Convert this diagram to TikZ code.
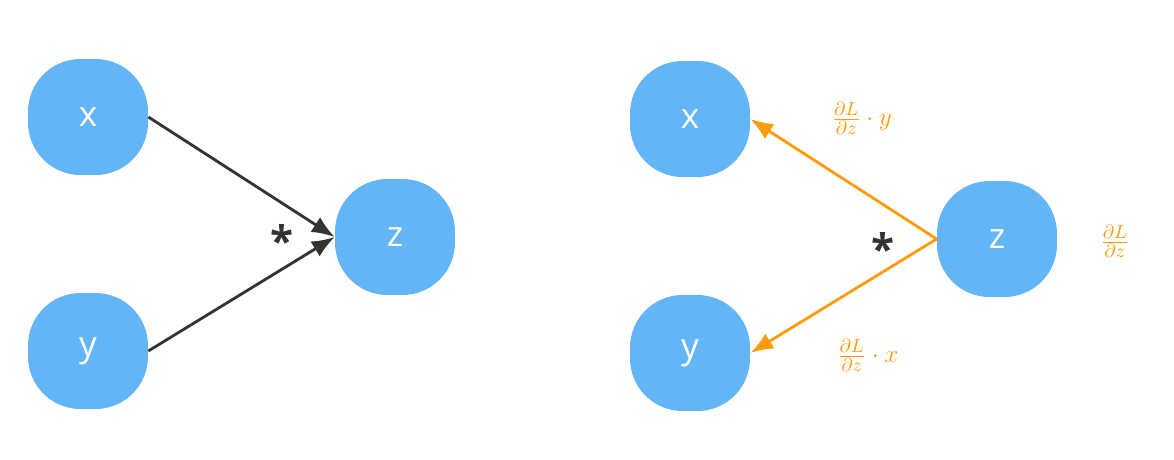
\documentclass[tikz,border=0pt]{standalone}
\usepackage{fontspec}
\setmainfont{Open Sans}
\usetikzlibrary{arrows.meta}
\definecolor{nblue}{HTML}{64B5F6}
\definecolor{gor}{HTML}{FF9A0A}
\definecolor{dk}{HTML}{333333}
\begin{document}
\begin{tikzpicture}[x=0.02cm,y=-0.02cm,
  blob/.style={fill=nblue,draw=none,minimum width=2.4cm,minimum height=2.32cm,rounded corners=1.05cm,text=white,font=\fontsize{20}{24}\selectfont,inner sep=0},
  fw/.style={draw=dk,line width=1.6pt,-{Latex[length=13pt,width=10pt]}},
  bw/.style={draw=gor,line width=1.6pt,-{Latex[length=13pt,width=10pt]}},
  lab/.style={text=gor,font=\fontsize{15}{18}\selectfont},
  star/.style={text=dk,font=\fontsize{24}{24}\selectfont\bfseries}]
\useasboundingbox (0,0) rectangle (1174,460);
\node[blob] (x1) at (88,117) {x};
\node[blob] (y1) at (88,351) {y};
\node[blob] (z1) at (395,237) {z};
\draw[fw] (x1.east) -- (z1.west);
\draw[fw] (y1.east) -- (z1.west);
\node[star] (s1) at (282,240) {*};
\node[blob] (x2) at (690,119) {x};
\node[blob] (y2) at (690,353) {y};
\node[blob] (z2) at (997,239) {z};
\draw[bw] (z2.west) -- (x2.east);
\draw[bw] (z2.west) -- (y2.east);
\node[star] (s2) at (883,248) {*};
\node[lab] (l1) at (862,118) {$\frac{\partial L}{\partial z}\cdot y$};
\node[lab] (l2) at (868,355) {$\frac{\partial L}{\partial z}\cdot x$};
\node[lab] (l3) at (1115,241) {$\frac{\partial L}{\partial z}$};
\end{tikzpicture}
\end{document}
